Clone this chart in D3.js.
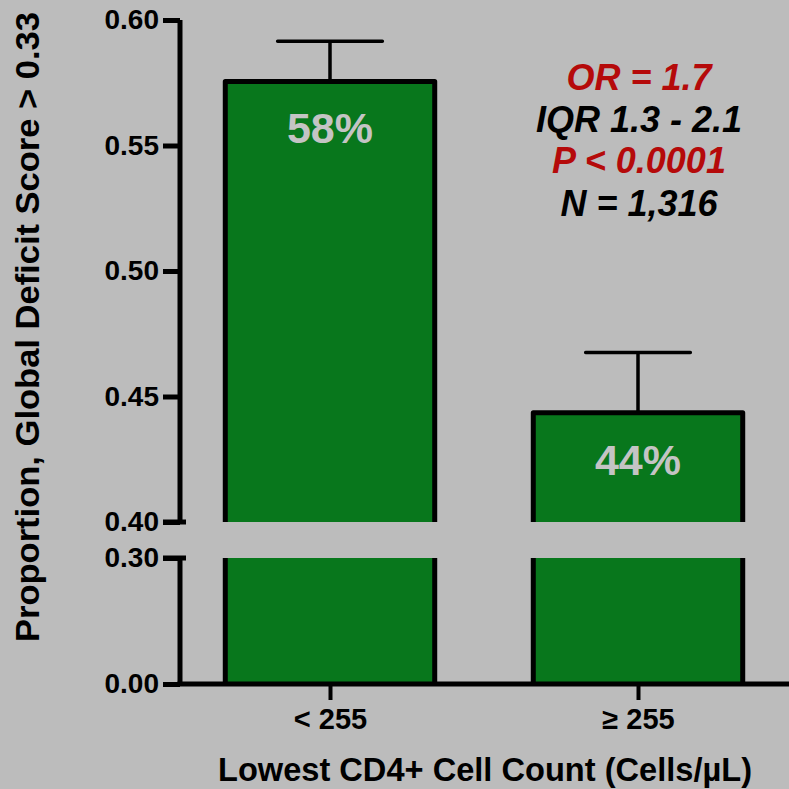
<!DOCTYPE html>
<html>
<head>
<meta charset="utf-8">
<script src="https://cdn.jsdelivr.net/npm/d3@7"></script>
<style>
  html, body { margin: 0; padding: 0; background: #bcbcbc; }
  svg { display: block; }
  text { font-family: "Liberation Sans", Arial, sans-serif; font-weight: bold; }
</style>
</head>
<body>
<svg id="chart" width="789" height="789"></svg>
<script>
// Categories and values
const categories = ["< 255", "\u2265 255"];
const proportions = [0.5755, 0.4435];
const errorUpper = [0.5915, 0.4675];
const upperTicks = [0.40, 0.45, 0.50, 0.55, 0.60];
const lowerTicks = [0.00, 0.30];
const statLines = ["OR = 1.7", "IQR 1.3 - 2.1", "P < 0.0001", "N = 1,316"];
const statColors = ["#b50a0a", "#000000", "#b50a0a", "#000000"];

const svg = d3.select("#chart");
const W = 789, H = 789;
const axisX = 180;
const green = "#08771c";
const bg = "#bcbcbc";

// Broken y axis: two linear segments
const yUpper = d3.scaleLinear().domain([0.40, 0.60]).range([522, 20]);
const yLower = d3.scaleLinear().domain([0.00, 0.30]).range([684, 558]);
const breakTop = yUpper(0.40), breakBottom = yLower(0.30);

const x = d3.scalePoint().domain(categories).range([176, 792]).padding(0.5);
const barW = 0.68 * x.step();

svg.append("rect").attr("width", W).attr("height", H).attr("fill", bg);

// Bars (split at the axis break)
const bars = svg.append("g");
categories.forEach((c, i) => {
  const cx = x(c), x0 = cx - barW / 2, x1 = cx + barW / 2;
  const top = yUpper(proportions[i]);
  bars.append("rect").attr("x", x0).attr("y", top).attr("width", barW)
    .attr("height", breakTop - top).attr("fill", green);
  bars.append("rect").attr("x", x0).attr("y", breakBottom).attr("width", barW)
    .attr("height", yLower(0) - breakBottom).attr("fill", green);
  bars.append("path")
    .attr("d", `M${x0},${breakTop}V${top}H${x1}V${breakTop}`)
    .attr("fill", "none").attr("stroke", "#000").attr("stroke-width", 5)
    .attr("stroke-linejoin", "round");
  bars.append("path")
    .attr("d", `M${x0},${breakBottom}V${yLower(0)}M${x1},${breakBottom}V${yLower(0)}`)
    .attr("fill", "none").attr("stroke", "#000").attr("stroke-width", 5);

  // Error bar (upward only)
  const eTop = yUpper(errorUpper[i]);
  bars.append("path")
    .attr("d", `M${cx},${top}V${eTop}M${cx - barW / 4},${eTop}H${cx + barW / 4}`)
    .attr("fill", "none").attr("stroke", "#000").attr("stroke-width", 3.5)
    .attr("stroke-linecap", "round");

  // Value label inside bar
  bars.append("text")
    .attr("x", cx).attr("y", top + 62)
    .attr("text-anchor", "middle")
    .attr("font-size", 43).attr("fill", "#c4c4c4")
    .text(d3.format(".0%")(proportions[i]));
});

// Y axis, upper segment
const axisUpper = d3.axisLeft(yUpper).tickValues(upperTicks).tickFormat(d3.format(".2f"))
  .tickSize(17).tickPadding(4);
const gU = svg.append("g").attr("transform", `translate(${axisX},0)`).call(axisUpper);
// Y axis, lower segment
const axisLower = d3.axisLeft(yLower).tickValues(lowerTicks).tickFormat(d3.format(".2f"))
  .tickSize(17).tickPadding(4);
const gL = svg.append("g").attr("transform", `translate(${axisX},0)`).call(axisLower);

[gU, gL].forEach(g => {
  g.select(".domain").remove();
  g.selectAll(".tick line").attr("stroke", "#000").attr("stroke-width", 5);
  g.selectAll(".tick text").attr("font-size", 28).attr("fill", "#000")
    .attr("font-family", "'Liberation Sans', Arial, sans-serif").attr("font-weight", "bold");
});

// Axis spines and break caps
svg.append("path")
  .attr("d", `M${axisX},${yUpper(0.60)}V${breakTop}M${axisX - 17},${breakTop}H${axisX + 6}` +
             `M${axisX - 17},${breakBottom}H${axisX + 6}M${axisX},${breakBottom}V${yLower(0)}`)
  .attr("fill", "none").attr("stroke", "#000").attr("stroke-width", 5);

// X axis
svg.append("line").attr("x1", axisX - 2.5).attr("x2", W).attr("y1", yLower(0)).attr("y2", yLower(0))
  .attr("stroke", "#000").attr("stroke-width", 5);
const gx = svg.append("g").attr("transform", `translate(0,${yLower(0)})`)
  .call(d3.axisBottom(x).tickSize(16).tickPadding(8));
gx.select(".domain").remove();
gx.selectAll(".tick line").attr("stroke", "#000").attr("stroke-width", 4);
gx.selectAll(".tick text").attr("font-size", 29).attr("fill", "#000")
  .attr("font-family", "'Liberation Sans', Arial, sans-serif").attr("font-weight", "bold");

// Axis titles
svg.append("text")
  .attr("x", 485).attr("y", 781)
  .attr("text-anchor", "middle").attr("font-size", 33).attr("fill", "#000")
  .attr("textLength", 534).attr("lengthAdjust", "spacingAndGlyphs")
  .text("Lowest CD4+ Cell Count (Cells/\u00b5L)");

svg.append("text")
  .attr("transform", `translate(39,327) rotate(-90)`)
  .attr("text-anchor", "middle").attr("font-size", 34).attr("fill", "#000")
  .attr("textLength", 630).attr("lengthAdjust", "spacingAndGlyphs")
  .text("Proportion, Global Deficit Score > 0.33");

// Statistics annotation
const baselines = [90, 132, 173, 216];
svg.append("g").selectAll("text").data(statLines).join("text")
  .attr("x", 639).attr("y", (d, i) => baselines[i])
  .attr("text-anchor", "middle")
  .attr("font-size", 36).attr("font-style", "italic")
  .attr("fill", (d, i) => statColors[i])
  .text(d => d);
</script>
</body>
</html>
